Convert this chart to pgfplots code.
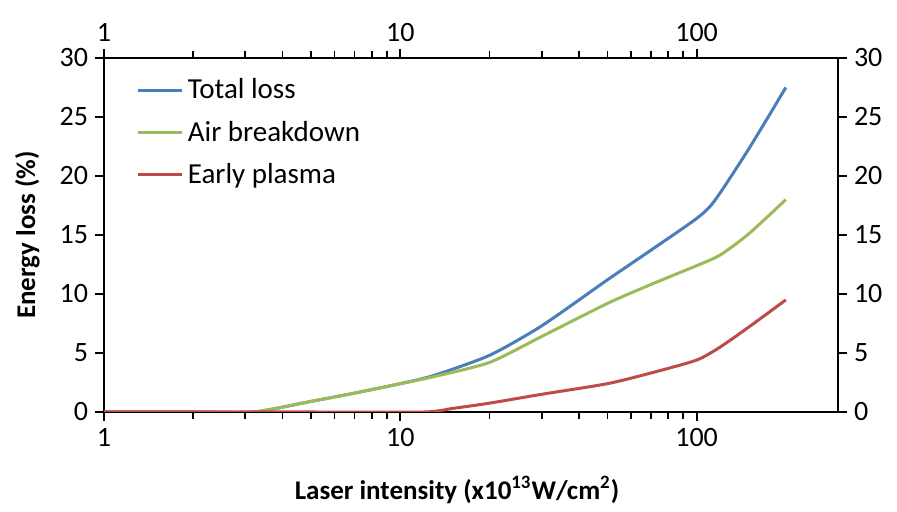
\documentclass[border=0pt]{standalone}
\usepackage{fontspec}
\setmainfont{Carlito}
\usepackage{pgfplots}
\pgfplotsset{compat=1.18}

\definecolor{cblue}{HTML}{4A7EBB}
\definecolor{cgreen}{HTML}{9BBB59}
\definecolor{cred}{HTML}{BE4B48}

\pgfplotsset{
  mybase/.style={
    scale only axis,
    width=367pt, height=177pt,
    xmin=1, xmax=300,
    ymin=0, ymax=30,
    xtick={1,10,100},
    ytick={0,5,...,30},
    log ticks with fixed point,
    /pgf/number format/assume math mode=true,
    ticklabel style={font=\fontsize{14}{16}\selectfont},
    tick align=outside,
    major tick length=4.5pt,
    minor tick length=3.5pt,
    tick style={black, line width=0.9pt},
    axis line style={black, line width=1pt},
  }
}

\begin{document}
\begin{tikzpicture}
  \begin{semilogxaxis}[
      mybase,
      axis x line*=bottom,
      axis y line*=left,
      xlabel={\textbf{Laser intensity (x10\textsuperscript{13}W/cm\textsuperscript{2})}},
      ylabel={\textbf{Energy loss (\%)}},
      label style={font=\fontsize{13.5}{15}\selectfont},
      xlabel style={yshift=-8pt, xshift=-7pt},
      ylabel style={yshift=3pt},
      legend style={at={(0.036,0.965)}, anchor=north west, draw=none, fill=none,
        font=\fontsize{14.5}{16}\selectfont, row sep=5.5pt},
      legend cell align=left,
      legend image code/.code={\draw[#1, line width=1.5pt] (0pt,0pt) -- (22pt,0pt);},
    ]
    \addplot[cblue, line width=1.5pt, smooth, tension=0.4] coordinates {
      (1,0) (2,0) (3.2,0) (5,0.9) (7,1.6) (10,2.4) (13,3.1) (20,4.8) (30,7.3)
      (50,11.2) (70,13.7) (100,16.4) (115,17.9) (150,22.3) (200,27.5)
    };
    \addlegendentry{Total loss}
    \addplot[cgreen, line width=1.5pt, smooth, tension=0.4] coordinates {
      (1,0) (2,0) (3.2,0) (5,0.9) (7,1.6) (10,2.4) (13,3.0) (20,4.2) (30,6.4)
      (50,9.2) (70,10.8) (100,12.4) (120,13.3) (150,15.1) (200,18.0)
    };
    \addlegendentry{Air breakdown}
    \addplot[cred, line width=1.5pt, smooth, tension=0.4] coordinates {
      (1,0) (5,0) (12,0) (15,0.3) (20,0.75) (30,1.5) (50,2.4) (70,3.3)
      (100,4.4) (120,5.5) (150,7.2) (200,9.5)
    };
    \addlegendentry{Early plasma}
  \end{semilogxaxis}
  \begin{semilogxaxis}[
      mybase,
      axis x line*=top,
      axis y line*=right,
    ]
    \addplot[draw=none] coordinates {(1,0) (300,30)};
  \end{semilogxaxis}
  \path (-52pt,-50pt) rectangle (396.5pt,206pt);
\end{tikzpicture}
\end{document}
